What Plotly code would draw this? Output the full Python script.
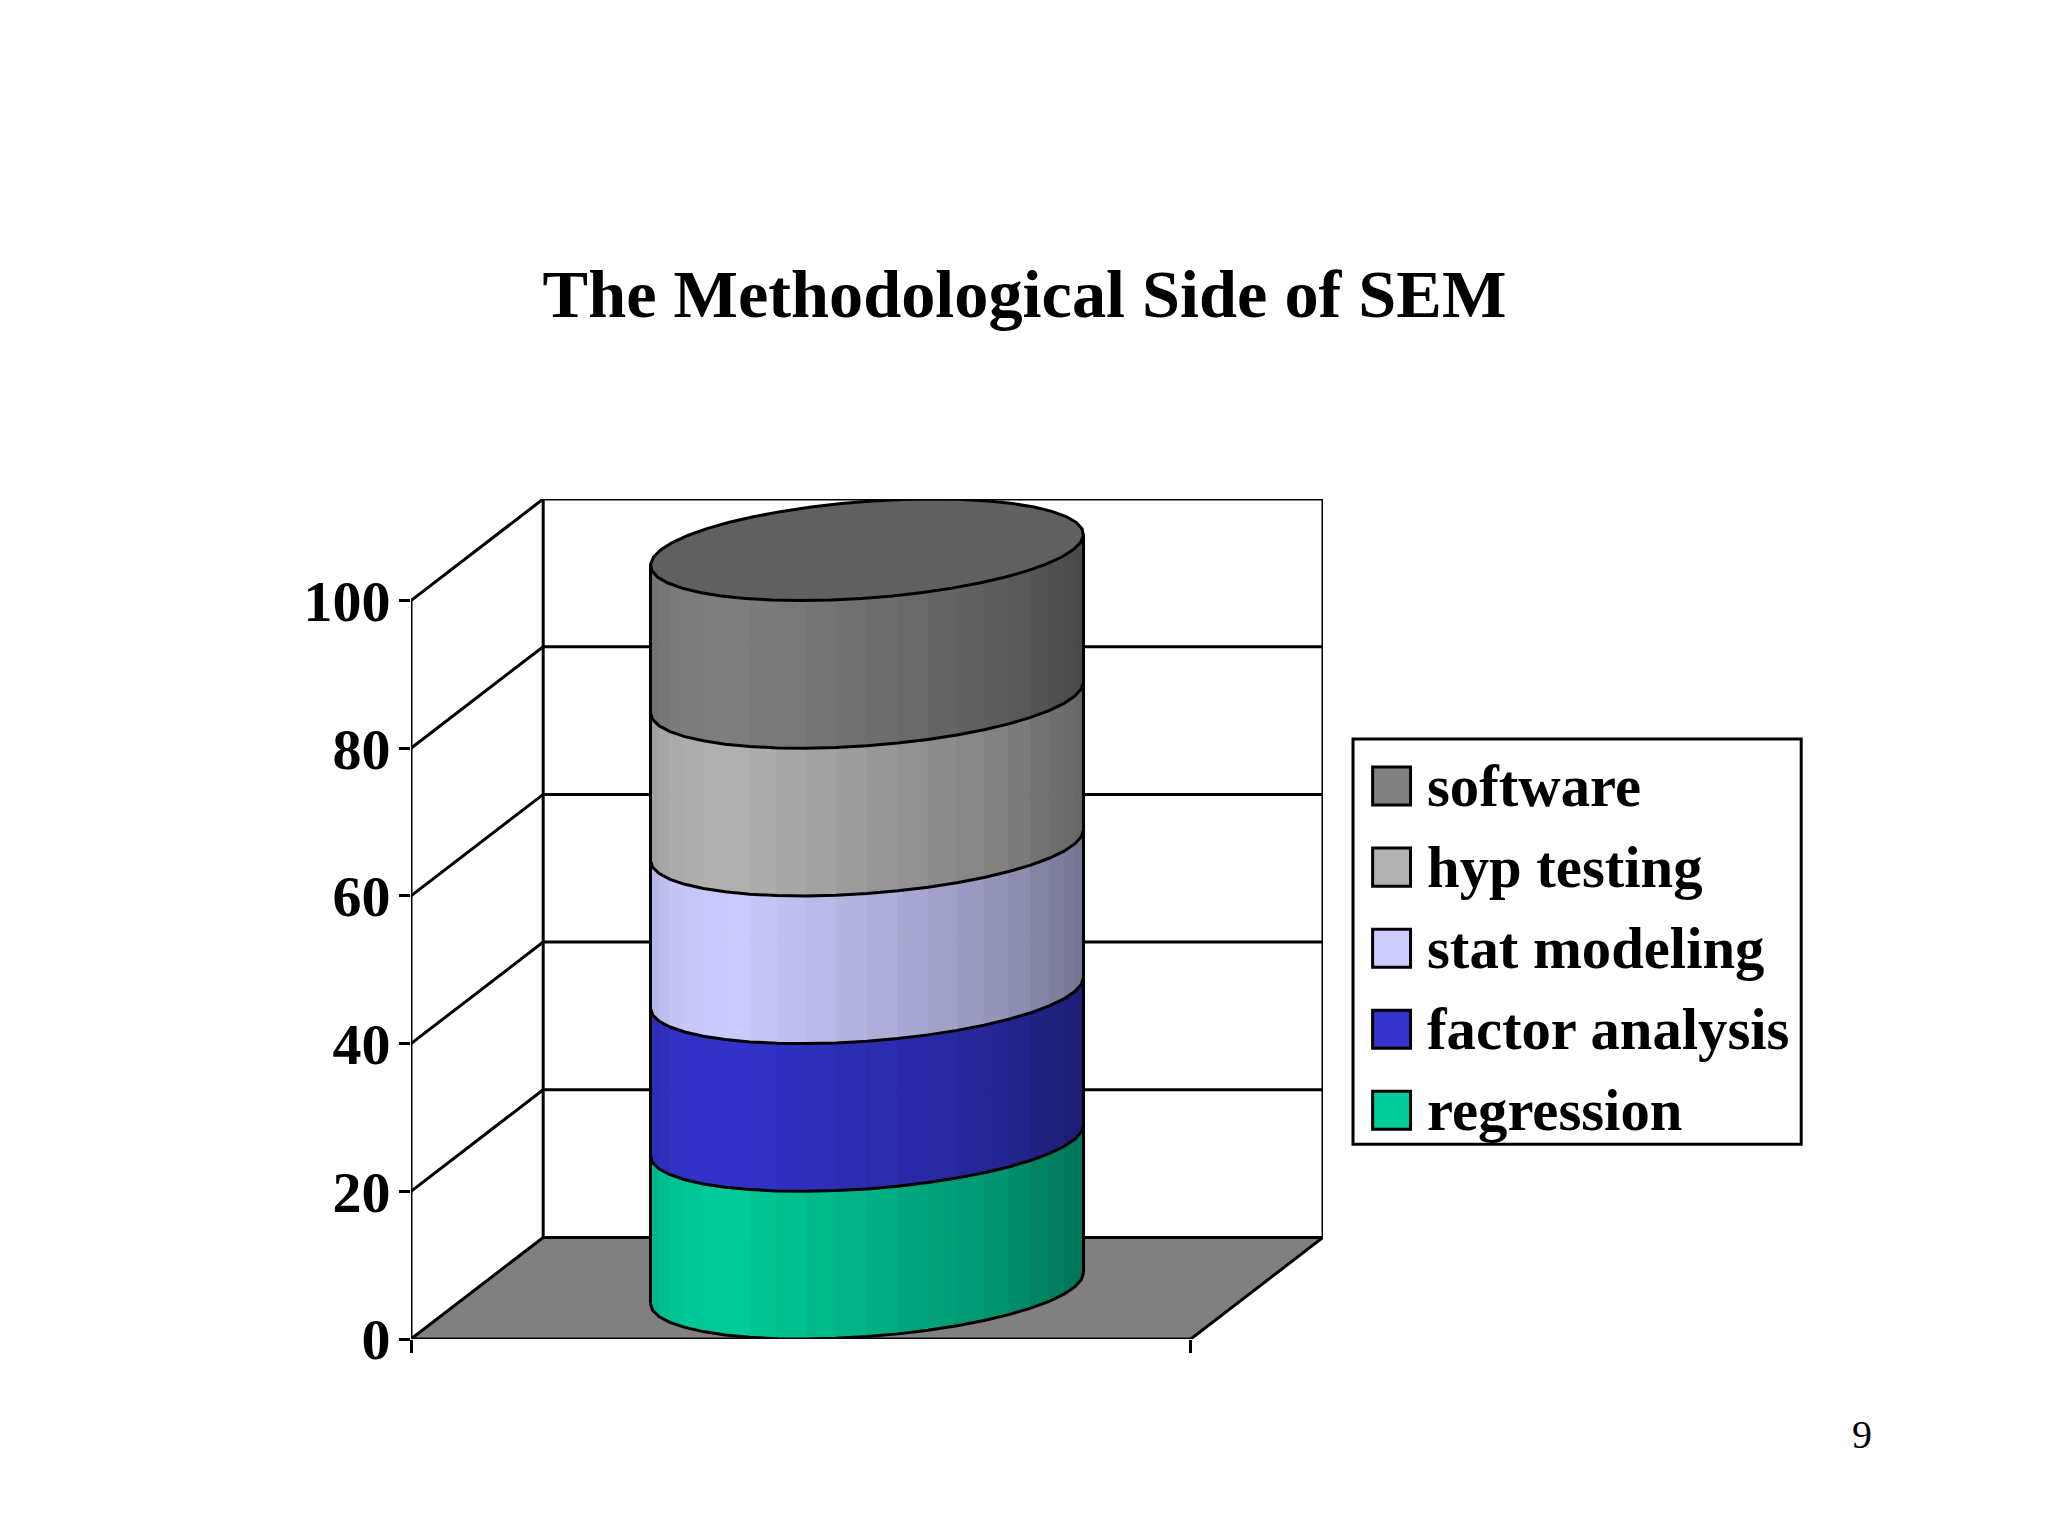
import numpy as np
import plotly.graph_objects as go

# stacked values, bottom to top
names = ['regression', 'factor analysis', 'stat modeling', 'hyp testing', 'software']
values = [20, 20, 20, 20, 20]
colors = ['#00CC99', '#3333CC', '#CCCCFF', '#B2B2B2', '#808080']
y_ticks = [0, 20, 40, 60, 80, 100]

W, H = 2048, 1536
left, right, top, bottom = 411.4, 1323, 499, 1338.7

# oblique depth of the 3d box, in axis units
depth_x = 0.1695
depth_y = 13.75
radius_x = 0.2644
n_facets = 22
line = dict(color='black', width=3)

shade_pos = [0.0, 0.05, 0.18, 0.5, 0.8, 1.0]
shade_val = [0.88, 0.96, 1.0, 0.87, 0.73, 0.57]


def shaded(hex_color, k):
    rgb = [int(hex_color[i:i + 2], 16) for i in (1, 3, 5)]
    return 'rgb(%d,%d,%d)' % tuple(int(c * k) for c in rgb)


def ring(level, angles):
    # circle of the cylinder at one height, projected like the box
    cx = 0.5 + depth_x / 2
    cy = level + depth_y / 2
    xs = cx + radius_x * np.cos(angles) + depth_x / 2 * np.sin(angles)
    ys = cy + depth_y / 2 * np.sin(angles)
    return xs, ys


def add_line(fig, x, y, fill=None):
    fig.add_trace(go.Scatter(x=x, y=y, mode='lines', line=line, cliponaxis=False,
                             fill='toself' if fill else None, fillcolor=fill,
                             hoverinfo='skip', showlegend=False))


fig = go.Figure()

# floor, walls and gridlines
add_line(fig, [0, 1, 1 + depth_x, depth_x, 0], [0, 0, depth_y, depth_y, 0], fill='#808080')
add_line(fig, [0, 0], [0, y_ticks[-1]])
add_line(fig, [depth_x, depth_x], [depth_y, y_ticks[-1] + depth_y])
add_line(fig, [1 + depth_x, 1 + depth_x], [depth_y, y_ticks[-1] + depth_y])
for v in y_ticks[1:]:
    add_line(fig, [0, depth_x, 1 + depth_x], [v, v + depth_y, v + depth_y])

# cylinder side, one strip per facet so the shading steps across
start = np.arctan2(depth_x / 2, radius_x) + np.pi
edges = start + np.linspace(0, np.pi, n_facets + 1)
levels = np.concatenate([[0], np.cumsum(values)])
for i, color in enumerate(colors):
    low_x, low_y = ring(levels[i], edges)
    high_x, high_y = ring(levels[i + 1], edges)
    for j in range(n_facets):
        k = np.interp((low_x[j] + low_x[j + 1] - 2 * low_x[0]) / 2 / (low_x[-1] - low_x[0]),
                      shade_pos, shade_val)
        c = shaded(color, k)
        fig.add_trace(go.Scatter(x=[low_x[j], low_x[j + 1], high_x[j + 1], high_x[j], low_x[j]],
                                 y=[low_y[j], low_y[j + 1], high_y[j + 1], high_y[j], low_y[j]],
                                 mode='lines', line=dict(color=c, width=1), fill='toself',
                                 fillcolor=c, cliponaxis=False, hoverinfo='skip', showlegend=False))

# band outlines and the top
for lev in levels[:-1]:
    x, y = ring(lev, edges)
    add_line(fig, x, y)
x0, y0 = ring(levels[0], edges)
x1, y1 = ring(levels[-1], edges)
add_line(fig, [x0[0], x1[0]], [y0[0], y1[0]])
add_line(fig, [x0[-1], x1[-1]], [y0[-1], y1[-1]])
x, y = ring(levels[-1], np.linspace(0, 2 * np.pi, 2 * n_facets + 1))
add_line(fig, x, y, fill='#606060')

fig.update_xaxes(range=[0, 1 + depth_x], tickvals=[0, 1], ticktext=['', ''], ticks='outside',
                 ticklen=13, tickwidth=3, tickcolor='black', showgrid=False,
                 zeroline=False, showline=False)
fig.update_yaxes(range=[0, y_ticks[-1] + depth_y], tickvals=y_ticks, ticks='outside',
                 ticklen=11, tickwidth=3, tickcolor='black', showgrid=False,
                 zeroline=False, showline=False, ticklabelstandoff=-3,
                 tickfont=dict(family='Liberation Serif', size=58, color='black', weight='bold'))


def paper_x(px):
    return (px - left) / (right - left)


def paper_y(py):
    return (bottom - py) / (bottom - top)


# legend, top row first
shapes = [dict(type='rect', xref='paper', yref='paper', x0=paper_x(1353), x1=paper_x(1801),
               y0=paper_y(739), y1=paper_y(1144), line=dict(color='black', width=3),
               fillcolor='white')]
annotations = []
row_y = [786, 867, 948, 1029, 1110]
for row, name, color in zip(row_y, names[::-1], colors[::-1]):
    shapes.append(dict(type='rect', xref='paper', yref='paper', x0=paper_x(1372.6), x1=paper_x(1410.5),
                       y0=paper_y(row - 19), y1=paper_y(row + 19),
                       line=dict(color='black', width=3), fillcolor=color))
    annotations.append(dict(text='<b>%s</b>' % name, xref='paper', yref='paper', x=paper_x(1425),
                            y=paper_y(row + 0.5), xanchor='left', yanchor='middle', showarrow=False,
                            font=dict(family='Liberation Serif', size=58.7, color='black')))
annotations.append(dict(text='9', xref='paper', yref='paper', x=paper_x(1874), y=paper_y(1459),
                        showarrow=False, font=dict(family='Liberation Serif', size=40, color='black')))

fig.update_layout(width=W, height=H, autosize=False,
                  margin=dict(l=left, r=W - right, t=top, b=H - bottom),
                  paper_bgcolor='white', plot_bgcolor='white', shapes=shapes,
                  annotations=annotations,
                  title=dict(text='<b>The Methodological Side of SEM</b>', x=1024.5 / W, xanchor='center',
                             y=1 - 293 / H, yanchor='middle',
                             font=dict(family='Liberation Serif', size=68.3, color='black')))

fig.write_html('out.html', config=dict(displayModeBar=False),
               post_script="document.body.style.margin='0';")
